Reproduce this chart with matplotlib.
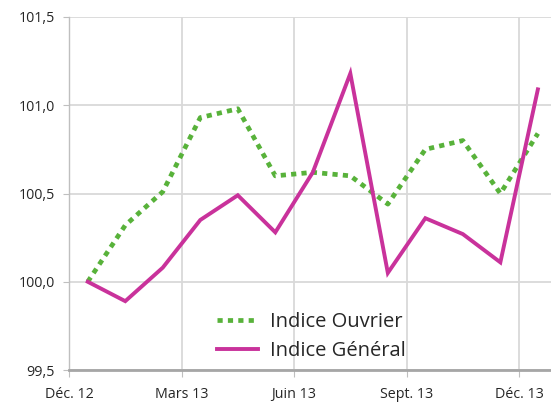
import matplotlib
matplotlib.use("Agg")
import matplotlib.pyplot as plt

# monthly index, Dec 2012 = 100
months = ["Déc. 12", "Janv. 13", "Févr. 13", "Mars 13", "Avr. 13", "Mai 13", "Juin 13",
          "Juil. 13", "Août 13", "Sept. 13", "Oct. 13", "Nov. 13", "Déc. 13"]
indice_ouvrier = [100.00, 100.32, 100.51, 100.93, 100.98, 100.60, 100.62,
                  100.60, 100.44, 100.75, 100.80, 100.50, 100.84]
indice_general = [100.00, 99.89, 100.08, 100.35, 100.49, 100.28, 100.62,
                  101.18, 100.05, 100.36, 100.27, 100.11, 101.09]
tick_labels = ["Déc. 12", "Mars 13", "Juin 13", "Sept. 13", "Déc. 13"]
y_ticks = [99.5, 100.0, 100.5, 101.0, 101.5]

GREEN = "#58b23a"
PINK = "#c9329b"
GRID = "#d9d9d9"
TEXT = "#262626"

plt.rcParams["font.family"] = ["Open Sans", "DejaVu Sans"]

fig = plt.figure(figsize=(5.51, 4.03), dpi=100)
ax = fig.add_axes([69 / 551, 1 - 370 / 403, 1 - 69 / 551, (370 - 17) / 403])

x = list(range(len(months)))
ax.plot(x, indice_ouvrier, color=GREEN, lw=3.4, linestyle=(0, (1.1, 1.1)),
        dash_capstyle="butt", label="Indice Ouvrier", zorder=3)
ax.plot(x, indice_general, color=PINK, lw=2.8, solid_joinstyle="miter",
        label="Indice Général", zorder=4)

# month labels sit on the boundaries between categories
xt = [months.index(t) - 0.5 for t in tick_labels]
ax.set_xticks(xt)
ax.set_xticklabels(tick_labels)
ax.set_xlim(-0.5, 12.35)
ax.set_ylim(99.5, 101.5)
ax.set_yticks(y_ticks)
ax.set_yticklabels([f"{v:.1f}".replace(".", ",") for v in y_ticks])

ax.grid(True, color=GRID, lw=1.3, zorder=0)
ax.set_axisbelow(True)
for s in ["top", "right"]:
    ax.spines[s].set_visible(False)
ax.spines["left"].set_color("#bfbfbf")
ax.spines["left"].set_linewidth(1.0)
ax.spines["bottom"].set_color("#a6a6a6")
ax.spines["bottom"].set_linewidth(2.0)
ax.tick_params(axis="y", length=4, color="#bfbfbf", labelsize=10.3, labelcolor=TEXT, pad=6)
ax.tick_params(axis="x", length=5, color="#bfbfbf", labelsize=10.3, labelcolor=TEXT, pad=7)

ax.legend(loc="lower left", bbox_to_anchor=(0.29, 0.0015), frameon=False,
          fontsize=14.5, handlelength=2.05, handletextpad=0.6, labelcolor=TEXT,
          borderaxespad=0, labelspacing=0.45)

fig.savefig("out.png", dpi=100)
